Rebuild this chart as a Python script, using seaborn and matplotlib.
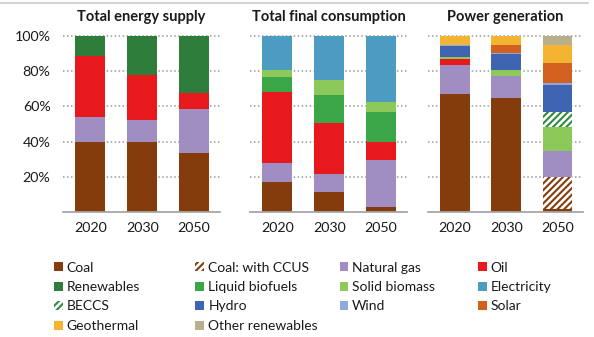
import matplotlib
matplotlib.use("Agg")
import matplotlib.pyplot as plt
from matplotlib.patches import Patch
from matplotlib.lines import Line2D
import numpy as np
import seaborn as sns

sns.set_style("white")
plt.rcParams["font.family"] = ["Lato", "DejaVu Sans"]
plt.rcParams["hatch.linewidth"] = 1.5

years = ["2020", "2030", "2050"]
yticks = [20, 40, 60, 80, 100]
ytick_labels = ["20%", "40%", "60%", "80%", "100%"]

# Total energy supply (% shares)
tes_coal = [40.0, 40.0, 33.3]
tes_gas = [14.0, 12.0, 25.4]
tes_oil = [34.6, 25.7, 8.7]
tes_renew = [11.4, 22.3, 32.6]

# Total final consumption (% shares)
tfc_coal = [17.2, 11.2, 2.7]
tfc_gas = [10.5, 10.4, 26.8]
tfc_oil = [40.3, 28.8, 10.5]
tfc_liqbio = [8.9, 16.3, 17.0]
tfc_solidbio = [3.8, 8.3, 5.7]
tfc_elec = [19.3, 25.0, 37.3]

# Power generation (% shares)
pg_coal = [67.0, 64.8, 1.7]
pg_coal_ccus = [0.0, 0.0, 18.3]
pg_gas = [16.7, 12.5, 14.7]
pg_oil = [3.1, 0.0, 0.0]
pg_solidbio = [1.5, 3.4, 13.8]
pg_beccs = [0.0, 0.0, 8.5]
pg_hydro = [6.3, 8.9, 15.2]
pg_wind = [0.3, 0.8, 0.9]
pg_solar = [0.0, 4.5, 11.4]
pg_geo = [5.1, 5.1, 10.4]
pg_other = [0.0, 0.0, 5.1]

C = {
    "Coal": "#843C0C",
    "Coal: with CCUS": "#843C0C",
    "Natural gas": "#A08DC1",
    "Oil": "#E8191D",
    "Renewables": "#2F7D3A",
    "Liquid biofuels": "#3AA648",
    "Solid biomass": "#8DC85A",
    "Electricity": "#4C9BC0",
    "BECCS": "#2F8A3E",
    "Hydro": "#3F64B2",
    "Wind": "#8FA9D9",
    "Solar": "#D2601E",
    "Geothermal": "#F3B531",
    "Other renewables": "#B8AF8C",
}
HATCHED = {"Coal: with CCUS", "BECCS"}
HATCH = "/////"

panels = [
    ("Total energy supply", [("Coal", tes_coal), ("Natural gas", tes_gas),
                              ("Oil", tes_oil), ("Renewables", tes_renew)]),
    ("Total final consumption", [("Coal", tfc_coal), ("Natural gas", tfc_gas),
                                  ("Oil", tfc_oil), ("Liquid biofuels", tfc_liqbio),
                                  ("Solid biomass", tfc_solidbio), ("Electricity", tfc_elec)]),
    ("Power generation", [("Coal", pg_coal), ("Coal: with CCUS", pg_coal_ccus),
                           ("Natural gas", pg_gas), ("Oil", pg_oil),
                           ("Solid biomass", pg_solidbio), ("BECCS", pg_beccs),
                           ("Hydro", pg_hydro), ("Wind", pg_wind), ("Solar", pg_solar),
                           ("Geothermal", pg_geo), ("Other renewables", pg_other)]),
]

W, H = 594, 337
fig = plt.figure(figsize=(W / 100, H / 100), dpi=100)
lefts = [63, 250, 428]
widths = [157, 157, 155]
bottom_px, top_px = 212, 36
TXT = "#1a1a1a"

for i, (title, series) in enumerate(panels):
    ax = fig.add_axes([lefts[i] / W, 1 - bottom_px / H, widths[i] / W, (bottom_px - top_px) / H])
    vals = np.array([s[1] for s in series])
    cum = np.cumsum(vals, axis=0)
    # draw cumulative bars from top down so each covers the one above
    for k in range(len(series) - 1, -1, -1):
        name = series[k][0]
        n0 = len(ax.patches)
        sns.barplot(x=years, y=cum[k], color=C[name], saturation=1, width=0.58,
                    errorbar=None, ax=ax, zorder=2, linewidth=0)
        if name in HATCHED:
            for p in ax.patches[n0:]:
                p.set_facecolor("white")
                p.set_edgecolor(C[name])
                p.set_hatch(HATCH)
                p.set_linewidth(0)
    ax.set_xlim(-0.53, 2.5)
    ax.set_ylim(0, 100)
    ax.set_yticks(yticks)
    ax.set_yticklabels(ytick_labels if i == 0 else [])
    ax.grid(axis="y", color="#9a9a9a", linestyle=(0, (1, 1.6)), linewidth=1.1, zorder=0)
    ax.grid(axis="x", visible=False)
    ax.set_axisbelow(True)
    for s in ["top", "right", "left"]:
        ax.spines[s].set_visible(False)
    ax.spines["bottom"].set_color("#A6A6A6")
    ax.spines["bottom"].set_linewidth(1.3)
    ax.spines["bottom"].set_zorder(3)
    ax.tick_params(axis="both", length=0, labelsize=10.3, colors=TXT)
    ax.tick_params(axis="y", pad=9)
    ax.tick_params(axis="x", pad=7)
    ax.set_xlabel("")
    ax.set_ylabel("")
    for gl in ax.get_ygridlines():
        gl.set_clip_on(False)
    ax.set_title(title, fontsize=10.5, fontweight="bold", color=TXT, pad=11)

# thin border line at top of the picture
fig.add_artist(Line2D([0, 0.99], [1 - 2.5 / H, 1 - 2.5 / H], color="#CFCFCF", linewidth=1.3,
                      transform=fig.transFigure))

legend_cols = [
    ["Coal", "Renewables", "BECCS", "Geothermal"],
    ["Coal: with CCUS", "Liquid biofuels", "Hydro", "Other renewables"],
    ["Natural gas", "Solid biomass", "Wind"],
    ["Oil", "Electricity", "Solar"],
]
col_x = [54, 195.5, 339.5, 478]
for names, x in zip(legend_cols, col_x):
    handles = []
    for n in names:
        if n in HATCHED:
            handles.append(Patch(facecolor="white", edgecolor=C[n], hatch=HATCH, linewidth=0))
        else:
            handles.append(Patch(facecolor=C[n], edgecolor="none", linewidth=0))
    fig.legend(handles, names, loc="upper left", bbox_to_anchor=(x / W, 1 - 261.5 / H),
               frameon=False, fontsize=10, handlelength=0.62, handleheight=0.62,
               handletextpad=0.3, labelspacing=0.54, borderpad=0, borderaxespad=0,
               labelcolor=TXT)

fig.savefig("out.png", dpi=100)
